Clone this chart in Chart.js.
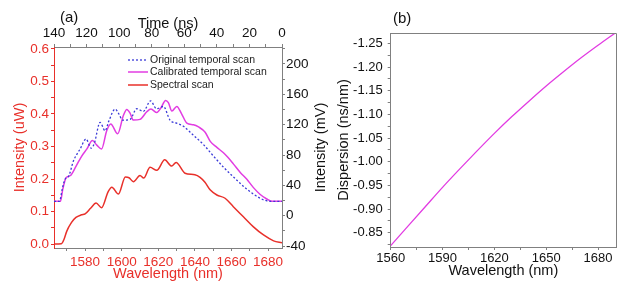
<!DOCTYPE html>
<html>
<head>
<meta charset="utf-8">
<script src="https://cdn.jsdelivr.net/npm/chart.js@4.4.0/dist/chart.umd.min.js"></script>
<style>
  body { margin: 0; background: #fff; width: 628px; height: 287px; overflow: hidden; position: relative; font-family: 'Liberation Sans', Arial, sans-serif; }
  canvas { position: absolute; top: 0; }
  #chartA { left: 0; }
  #chartB { left: 335px; }
  .tag { position: absolute; font-size: 15px; color: #111; }
</style>
</head>
<body>
<canvas id="chartA" width="335" height="287"></canvas>
<canvas id="chartB" width="293" height="287"></canvas>
<div class="tag" style="left:60px;top:8px">(a)</div>
<div class="tag" style="left:393px;top:9px">(b)</div>
<script>
// panel (a) - spectral scan, uW vs wavelength
const specWl = [1563, 1567, 1568.5, 1570, 1572.5, 1575, 1578, 1580, 1583, 1586, 1589, 1592.5, 1594.6, 1598.2, 1602, 1604, 1606.4, 1610, 1612, 1615.5, 1619.2, 1623.5, 1627.3, 1629.7, 1634.6, 1640, 1642.8, 1645.5, 1648.3, 1652, 1656.5, 1661, 1666.5, 1672, 1677.5, 1683, 1687.6];
const specUw = [0.000, 0.001, 0.015, 0.040, 0.066, 0.082, 0.090, 0.093, 0.110, 0.126, 0.112, 0.160, 0.175, 0.154, 0.206, 0.204, 0.192, 0.211, 0.203, 0.236, 0.227, 0.259, 0.240, 0.251, 0.218, 0.213, 0.205, 0.190, 0.167, 0.151, 0.141, 0.115, 0.084, 0.053, 0.028, 0.010, 0.004];

// calibrated temporal scan, mV
const calWl = [1563, 1566.5, 1567.8, 1569.6, 1572, 1575, 1578, 1581, 1584, 1586.4, 1589, 1591.8, 1594, 1597.8, 1600.9, 1602.8, 1604.6, 1606.4, 1610, 1613.7, 1616, 1619.2, 1621.4, 1624, 1625.5, 1627.4, 1630.1, 1632.8, 1635.6, 1639.2, 1642, 1645.6, 1648.4, 1652, 1655.6, 1658, 1661.1, 1664.8, 1668.4, 1672, 1675.7, 1679.3, 1682, 1687.6];
const calMv = [19, 19, 35, 50, 53, 65, 78, 88, 99, 93, 88, 112, 121, 108, 132, 140, 135, 126, 127, 137, 140.5, 136, 142, 152, 149, 138, 144, 134, 122, 120, 117, 110, 98, 90, 83, 77, 68, 57, 48, 37, 28, 22, 19, 19];

// original temporal scan, mV
const origWl = [1563, 1566, 1567.5, 1569, 1571, 1573.6, 1577.3, 1580.5, 1583.3, 1585, 1588.2, 1590.9, 1593, 1596.4, 1598.5, 1600.5, 1604.6, 1608.2, 1611.8, 1615.8, 1619, 1622.8, 1626.4, 1630, 1633.7, 1639.2, 1644.6, 1650, 1655.6, 1661.1, 1668.4, 1675.7, 1681, 1687.6];
const origMv = [19, 19, 35, 48, 52, 72, 88, 101, 89, 95, 123, 112, 125, 140.5, 134, 126, 127, 141, 137.5, 151.4, 141, 144, 126, 122, 118, 106, 94, 79, 64, 51, 35, 23, 19, 19];

// panel (b) - dispersion
const dispWl = [1560, 1570, 1580, 1590, 1600, 1610, 1620, 1630, 1640, 1650, 1660, 1670, 1680, 1690];
const dispVal = [-0.823, -0.864, -0.905, -0.946, -0.985, -1.023, -1.060, -1.095, -1.128, -1.160, -1.190, -1.219, -1.246, -1.272];

const labels = ['Original temporal scan', 'Calibrated temporal scan', 'Spectral scan'];

const RED = '#e8302a';
const MAG = '#e23ce2';
const BLUE = '#3a3ad8';
const FRAME = '#808080';

Chart.defaults.font.family = "'Liberation Sans', Arial, sans-serif";

function pts(xs, ys) {
    return xs.map((x, i) => ({ x: x, y: ys[i] }));
}

const innerLegend = {
    id: 'innerLegend',
    afterDatasetsDraw(chart) {
        const ctx = chart.ctx;
        const rows = [60, 72, 85];
        chart.data.datasets.forEach((ds, i) => {
            ctx.save();
            ctx.strokeStyle = ds.borderColor;
            ctx.lineWidth = ds.borderWidth;
            ctx.setLineDash(ds.borderDash || []);
            ctx.beginPath();
            ctx.moveTo(128, rows[i]);
            ctx.lineTo(148, rows[i]);
            ctx.stroke();
            ctx.setLineDash([]);
            ctx.fillStyle = '#222';
            ctx.font = "10.5px 'Liberation Sans', Arial";
            ctx.textBaseline = 'middle';
            ctx.fillText(ds.label, 150, rows[i]);
            ctx.restore();
        });
    }
};

// right axis title reads bottom to top in the original
const rightTitle = {
    id: 'rightTitle',
    afterDraw(chart) {
        const ctx = chart.ctx;
        const a = chart.chartArea;
        ctx.save();
        ctx.translate(321, (a.top + a.bottom) / 2);
        ctx.rotate(-Math.PI / 2);
        ctx.fillStyle = '#111';
        ctx.font = "14.5px 'Liberation Sans', Arial";
        ctx.textAlign = 'center';
        ctx.textBaseline = 'middle';
        ctx.fillText('Intensity (mV)', 0, 0);
        ctx.restore();
    }
};

const chartA = new Chart(document.getElementById('chartA'), {
    type: 'line',
    data: {
        datasets: [{
            label: labels[0],
            data: pts(origWl, origMv),
            yAxisID: 'y1',
            borderColor: BLUE,
            borderWidth: 1.3,
            borderDash: [2, 2],
            pointRadius: 0,
            cubicInterpolationMode: 'monotone'
        }, {
            label: labels[1],
            data: pts(calWl, calMv),
            yAxisID: 'y1',
            borderColor: MAG,
            borderWidth: 1.5,
            pointRadius: 0,
            cubicInterpolationMode: 'monotone'
        }, {
            label: labels[2],
            data: pts(specWl, specUw),
            yAxisID: 'y',
            borderColor: RED,
            borderWidth: 1.5,
            pointRadius: 0,
            cubicInterpolationMode: 'monotone'
        }]
    },
    options: {
        responsive: false,
        animation: false,
        devicePixelRatio: 1,
        layout: { padding: { left: 7, top: 11, right: 0, bottom: 0 } },
        plugins: { legend: { display: false }, tooltip: { enabled: false } },
        scales: {
            x: {
                type: 'linear', position: 'bottom', min: 1563, max: 1687.6,
                ticks: { stepSize: 10, includeBounds: false, autoSkip: false, maxRotation: 0, color: RED, padding: 3, font: { size: 13.5 },
                    callback: v => Math.round(v) % 20 === 0 ? v : '' },
                grid: { drawOnChartArea: false, tickLength: 3, color: FRAME },
                border: { color: FRAME },
                title: { display: true, text: 'Wavelength (nm)', color: RED, font: { size: 14.5 }, padding: { top: 0, bottom: 4 } },
                afterFit: s => { s.height = 39; }
            },
            x2: {
                type: 'linear', position: 'top', min: 0, max: 140, reverse: true,
                ticks: { stepSize: 10, includeBounds: false, autoSkip: false, maxRotation: 0, color: '#111', padding: 3, font: { size: 13.5 },
                    callback: v => Math.round(v) % 20 === 0 ? v : '' },
                grid: { drawOnChartArea: false, tickLength: 3, color: FRAME },
                border: { color: FRAME },
                title: { display: true, text: 'Time (ns)', color: '#111', font: { size: 14.5 }, padding: { top: 4, bottom: 0 } },
                afterFit: s => { s.height = 36; }
            },
            y: {
                type: 'linear', position: 'left', min: -0.012, max: 0.606,
                ticks: { stepSize: 0.05, includeBounds: false, autoSkip: false, color: RED, padding: 2, font: { size: 13.5 },
                    callback: v => Math.round(v * 20) % 2 === 0 ? v.toFixed(1) : '' },
                grid: { drawOnChartArea: false, tickLength: 3, color: RED },
                border: { color: RED },
                title: { display: true, text: 'Intensity (uW)', color: RED, font: { size: 14.5 }, padding: { top: 4, bottom: 0 } },
                afterFit: s => { s.width = 47; }
            },
            y1: {
                type: 'linear', position: 'right', min: -42.6, max: 222.4,
                ticks: { stepSize: 20, includeBounds: false, autoSkip: false, color: '#111', padding: 1, font: { size: 13.5 },
                    callback: v => Math.round(v) % 40 === 0 ? v : '' },
                grid: { drawOnChartArea: false, tickLength: 3, color: FRAME },
                border: { color: FRAME },
                afterFit: s => { s.width = 53; }
            }
        }
    },
    plugins: [innerLegend, rightTitle]
});

// top and right edges of the box for panel (b)
const boxEdges = {
    id: 'boxEdges',
    afterDraw(chart) {
        const ctx = chart.ctx;
        const a = chart.chartArea;
        ctx.save();
        ctx.strokeStyle = FRAME;
        ctx.lineWidth = 1;
        ctx.beginPath();
        ctx.moveTo(a.left, a.top + 0.5);
        ctx.lineTo(a.right + 0.5, a.top + 0.5);
        ctx.lineTo(a.right + 0.5, a.bottom);
        ctx.stroke();
        ctx.restore();
    }
};

const chartB = new Chart(document.getElementById('chartB'), {
    type: 'line',
    data: {
        datasets: [{
            data: pts(dispWl, dispVal),
            borderColor: MAG,
            borderWidth: 1.3,
            pointRadius: 0,
            cubicInterpolationMode: 'monotone'
        }]
    },
    options: {
        responsive: false,
        animation: false,
        devicePixelRatio: 1,
        layout: { padding: { left: 0, top: 33, right: 12, bottom: 0 } },
        plugins: { legend: { display: false }, tooltip: { enabled: false } },
        scales: {
            x: {
                type: 'linear', min: 1560, max: 1690.4,
                ticks: { stepSize: 15, includeBounds: false, autoSkip: false, maxRotation: 0, color: '#111', padding: 1, font: { size: 13 },
                    callback: v => Math.round(v - 1560) % 30 === 0 ? v : '' },
                grid: { drawOnChartArea: false, tickLength: 3, color: FRAME },
                border: { color: FRAME },
                title: { display: true, text: 'Wavelength (nm)', color: '#111', font: { size: 14.5 }, padding: { top: 0, bottom: 7 } },
                afterFit: s => { s.height = 40; }
            },
            y: {
                type: 'linear', min: -1.272, max: -0.82, reverse: true,
                ticks: { stepSize: 0.025, includeBounds: false, autoSkip: false, color: '#111', padding: 5, font: { size: 13 },
                    callback: v => Math.round(v * 40) % 2 === 0 ? v.toFixed(2) : '' },
                grid: { drawOnChartArea: false, tickLength: 3, color: FRAME },
                border: { color: FRAME },
                title: { display: true, text: 'Dispersion (ns/nm)', color: '#111', font: { size: 14.5 }, padding: { top: 0, bottom: 0 } },
                afterFit: s => { s.width = 55.7; }
            }
        }
    },
    plugins: [boxEdges]
});
</script>
</body>
</html>
